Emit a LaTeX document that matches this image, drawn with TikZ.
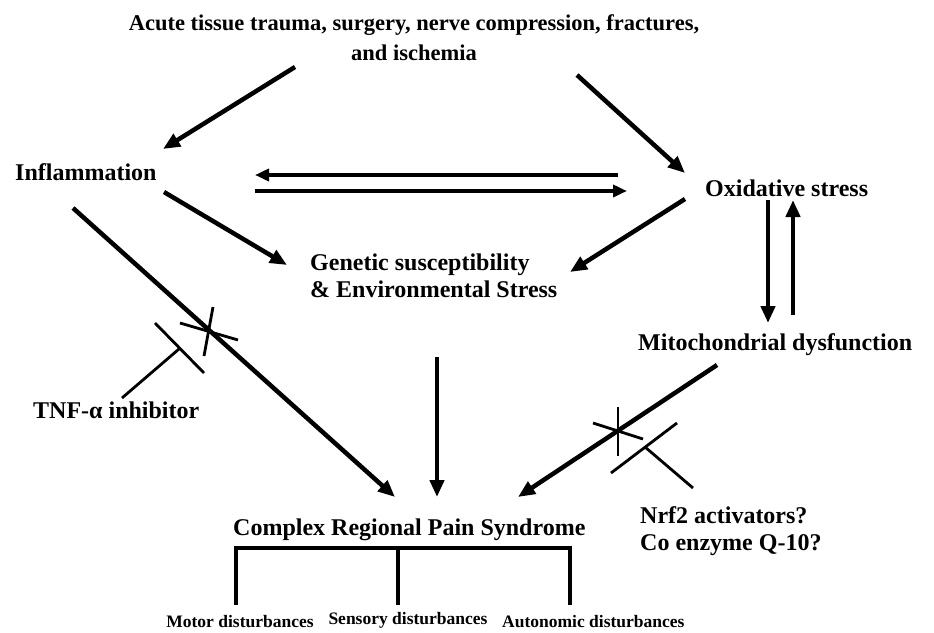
\documentclass[tikz,border=0pt]{standalone}
\usepackage{fontspec}
\setmainfont{Liberation Serif}
\usetikzlibrary{arrows.meta}
\begin{document}
\begin{tikzpicture}[x=1pt,y=-1pt,
  lbl/.style={font=\fontsize{24}{27}\selectfont\bfseries, inner sep=0pt},
  ttl/.style={font=\fontsize{22.5}{30}\selectfont\bfseries, inner sep=0pt, align=center},
  smalllbl/.style={font=\fontsize{17.5}{20}\selectfont\bfseries, inner sep=0pt},
  arr/.style={line width=4.5pt, -{Triangle[length=17pt,width=14pt]}},
  harr/.style={line width=4pt, -{Triangle[length=14pt,width=12pt]}},
  thinline/.style={line width=2.8pt},
  brk/.style={line width=3.5pt}]
\useasboundingbox (0,0) rectangle (934,632);
% texts
\node[ttl] (title) at (414,38) {Acute tissue trauma, surgery, nerve compression, fractures,\\and ischemia};
\node[lbl, anchor=west] (infl) at (15,172) {Inflammation};
\node[lbl, anchor=west] (ox) at (705,188) {Oxidative stress};
\node[lbl, anchor=west, align=left] (gen) at (310,276) {Genetic susceptibility\\\& Environmental Stress};
\node[lbl, anchor=west] (mito) at (638,345) {Mitochondrial dysfunction};
\node[lbl, anchor=west] (tnf) at (33,410) {TNF-α inhibitor};
\node[lbl, anchor=west, align=left] (nrf) at (640,531) {Nrf2 activators?\\Co enzyme Q-10?};
\node[lbl, anchor=west] (crps) at (233,530) {Complex Regional Pain Syndrome};
\node[smalllbl] (motor) at (240,622) {Motor disturbances};
\node[smalllbl] (sens) at (408,620) {Sensory disturbances};
\node[smalllbl, anchor=west] (auto) at (502,622) {Autonomic disturbances};
% coordinates
\coordinate (a1s) at (295,67);  \coordinate (a1e) at (163,149);
\coordinate (a2s) at (577,75);  \coordinate (a2e) at (685,173);
\coordinate (h1s) at (618,175); \coordinate (h1e) at (255,175);
\coordinate (h2s) at (255,191); \coordinate (h2e) at (627,191);
\coordinate (g1s) at (164,192); \coordinate (g1e) at (287,265);
\coordinate (g2s) at (685,199); \coordinate (g2e) at (570,272);
\coordinate (v1s) at (768,200); \coordinate (v1e) at (768,323);
\coordinate (v2s) at (793,315); \coordinate (v2e) at (793,200);
\coordinate (c1s) at (73,208);  \coordinate (c1e) at (395,497);
\coordinate (c2s) at (437,357); \coordinate (c2e) at (437,497);
\coordinate (c3s) at (717,365); \coordinate (c3e) at (518,497);
% arrows
\draw[arr] (a1s) -- (a1e);
\draw[arr] (a2s) -- (a2e);
\draw[harr] (h1s) -- (h1e);
\draw[harr] (h2s) -- (h2e);
\draw[arr] (g1s) -- (g1e);
\draw[arr] (g2s) -- (g2e);
\draw[arr] (v1s) -- (v1e);
\draw[arr] (v2s) -- (v2e);
\draw[arr] (c1s) -- (c1e);
\draw[arr] (c2s) -- (c2e);
\draw[arr] (c3s) -- (c3e);
% TNF inhibition mark
\coordinate (x1a) at (180,323); \coordinate (x1b) at (238,340);
\coordinate (x1c) at (213,307); \coordinate (x1d) at (204,356);
\draw[thinline] (x1a) -- (x1b);
\draw[thinline] (x1c) -- (x1d);
\coordinate (t1a) at (155,323); \coordinate (t1b) at (204,373);
\coordinate (t1m) at (179,349); \coordinate (t1f) at (122,398);
\draw[thinline] (t1a) -- (t1b);
\draw[thinline] (t1m) -- (t1f);
% Nrf2 inhibition mark
\coordinate (x2a) at (618,407); \coordinate (x2b) at (618,456);
\coordinate (x2c) at (593,423); \coordinate (x2d) at (643,439);
\draw[thinline] (x2a) -- (x2b);
\draw[thinline] (x2c) -- (x2d);
\coordinate (t2a) at (677,423); \coordinate (t2b) at (611,473);
\coordinate (t2m) at (645,447); \coordinate (t2f) at (693,488);
\draw[thinline] (t2a) -- (t2b);
\draw[thinline] (t2m) -- (t2f);
% bracket
\coordinate (bl) at (236,548); \coordinate (bm) at (398,548); \coordinate (br) at (570,548);
\draw[brk] (236,605) -- (bl) -- (br) -- (570,605);
\draw[brk] (bm) -- (398,605);
\end{tikzpicture}
\end{document}
